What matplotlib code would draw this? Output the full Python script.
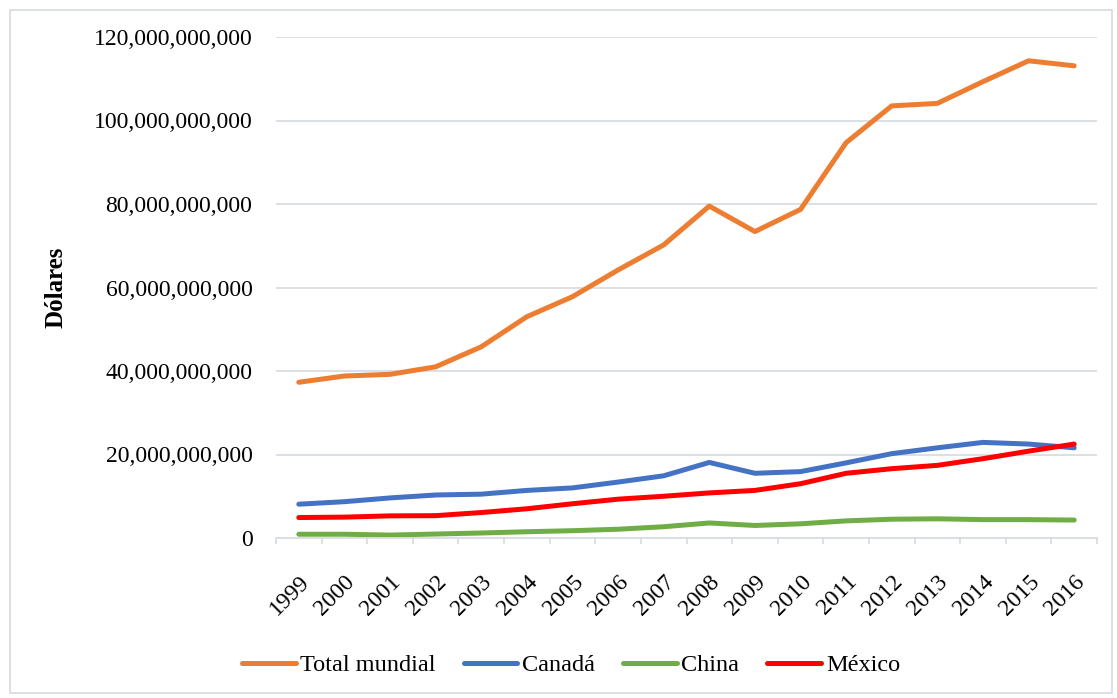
import matplotlib
matplotlib.use("Agg")
import matplotlib.pyplot as plt
from matplotlib.patches import Rectangle
from matplotlib.ticker import FuncFormatter, FixedLocator

plt.rcParams['font.family'] = ['Liberation Serif', 'DejaVu Serif']

years = list(range(1999, 2017))
total_mundial = [37.3, 38.8, 39.2, 41.0, 45.8, 53.0, 57.8, 64.2, 70.2, 79.5,
                 73.4, 78.7, 94.7, 103.5, 104.1, 109.3, 114.3, 113.1]
canada = [8.1, 8.7, 9.6, 10.3, 10.5, 11.4, 12.0, 13.4, 14.9, 18.1,
          15.5, 15.9, 18.0, 20.2, 21.6, 22.9, 22.5, 21.6]
china = [0.9, 0.9, 0.7, 0.95, 1.2, 1.5, 1.75, 2.1, 2.7, 3.6,
         3.0, 3.4, 4.1, 4.5, 4.6, 4.4, 4.4, 4.3]
mexico = [4.9, 5.0, 5.3, 5.35, 6.1, 7.0, 8.2, 9.3, 10.0, 10.8,
          11.4, 13.0, 15.5, 16.6, 17.4, 19.0, 20.8, 22.5]

series = [
    ("Total mundial", total_mundial, "#ED7D31"),
    ("Canadá", canada, "#4472C4"),
    ("China", china, "#70AD47"),
    ("México", mexico, "#FF0000"),
]

grid_color = "#D9DDE3"

fig = plt.figure(figsize=(11.17, 6.98), dpi=100)
ax = fig.add_axes([276 / 1117, 1 - 538 / 698, 821 / 1117, 501 / 698])

for name, vals, color in series:
    ax.plot(years, [v * 1e9 for v in vals], color=color, lw=3.6,
            solid_capstyle="round", label=name)

ax.set_xlim(1998.5, 2016.5)
ax.set_ylim(0, 120e9)
ax.set_yticks([i * 20e9 for i in range(7)])
ax.yaxis.set_major_formatter(FuncFormatter(lambda v, p: f"{v:,.0f}"))
ax.grid(axis="y", color=grid_color, lw=1.3)
ax.set_axisbelow(True)

# year labels sit between the small boundary ticks
ax.set_xticks(years)
ax.set_xticklabels([str(y) for y in years], rotation=45, ha="right",
                   rotation_mode="anchor", fontsize=17)
ax.xaxis.set_minor_locator(FixedLocator([y + 0.5 for y in range(1998, 2017)]))
ax.tick_params(axis="x", which="major", length=0, pad=24)
ax.tick_params(axis="x", which="minor", length=4, width=1.3, color=grid_color)
ax.tick_params(axis="y", length=0, pad=17, labelsize=17)

for side in ("top", "right", "left"):
    ax.spines[side].set_visible(False)
ax.spines["bottom"].set_color(grid_color)
ax.spines["bottom"].set_linewidth(1.3)

ax.set_ylabel("Dólares", fontsize=18, fontweight="bold")
ax.yaxis.set_label_coords(-0.254, 0.5)

fig.legend(loc="center", bbox_to_anchor=(571 / 1117, 1 - 665 / 698), ncol=4,
           frameon=False, fontsize=17.5, handlelength=2.2, handletextpad=0.2,
           columnspacing=1.15)

fig.patches.append(Rectangle((10 / 1117, 5 / 698), 1102 / 1117, 683 / 698,
                             transform=fig.transFigure, fill=False,
                             edgecolor=grid_color, lw=1.3))

fig.savefig("out.png", dpi=100)
